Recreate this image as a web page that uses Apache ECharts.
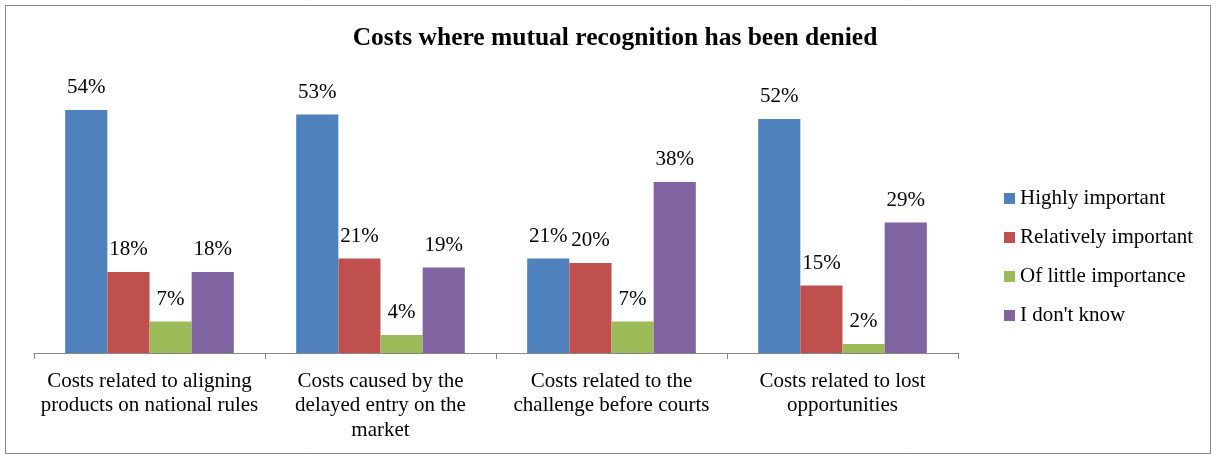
<!DOCTYPE html>
<html><head><meta charset="utf-8">
<script src="https://cdn.jsdelivr.net/npm/echarts@6/dist/echarts.min.js"></script>
<style>html,body{margin:0;padding:0;background:#fff}#c{width:1217px;height:459px}</style>
</head><body><div id="c"></div>
<script>
const categories = [
  "Costs related to aligning\nproducts on national rules",
  "Costs caused by the\ndelayed entry on the\nmarket",
  "Costs related to the\nchallenge before courts",
  "Costs related to lost\nopportunities"
];
const seriesNames = ["Highly important", "Relatively important", "Of little importance", "I don't know"];
const highlyImportant = [54, 53, 21, 52];
const relativelyImportant = [18, 21, 20, 15];
const littleImportance = [7, 4, 7, 2];
const dontKnow = [18, 19, 38, 29];
const colors = ["#4F81BD", "#C0504D", "#9BBB59", "#8064A2"];
const values = [highlyImportant, relativelyImportant, littleImportance, dontKnow];
const font = "'Liberation Serif', 'Times New Roman', serif";

const chart = echarts.init(document.getElementById('c'));
chart.setOption({
  animation: false,
  textStyle: { fontFamily: font },
  title: {
    text: "Costs where mutual recognition has been denied",
    left: 610, top: 20, textAlign: 'center',
    textStyle: { fontFamily: font, fontSize: 25.5, fontWeight: 'bold', color: '#000' }
  },
  legend: {
    orient: 'vertical', left: 999, top: 183,
    itemWidth: 11, itemHeight: 11, itemGap: 18,
    icon: 'rect',
    textStyle: { fontFamily: font, fontSize: 21, color: '#000' },
    data: seriesNames
  },
  grid: { left: 34, top: 83, width: 924, height: 270, containLabel: false },
  xAxis: {
    type: 'category', data: categories,
    axisLine: { lineStyle: { color: '#868686', width: 1 } },
    axisTick: { show: true, length: 6, lineStyle: { color: '#868686' } },
    axisLabel: { fontFamily: font, fontSize: 21, color: '#000', lineHeight: 24.5, margin: 16, interval: 0 }
  },
  yAxis: { type: 'value', min: 0, max: 60, show: false, splitLine: { show: false } },
  series: seriesNames.map((n, i) => ({
    name: n, type: 'bar', data: values[i],
    barGap: '0%', barCategoryGap: '27%',
    itemStyle: { color: colors[i] },
    label: { show: true, position: 'top', distance: 12, formatter: '{c}%',
      fontFamily: font, fontSize: 21, color: '#000' }
  })),
  graphic: [{
    type: 'rect', shape: { x: 5.5, y: 5.5, width: 1205, height: 448 },
    style: { fill: 'none', stroke: '#868686', lineWidth: 1 }, silent: true
  }]
});
</script></body></html>
